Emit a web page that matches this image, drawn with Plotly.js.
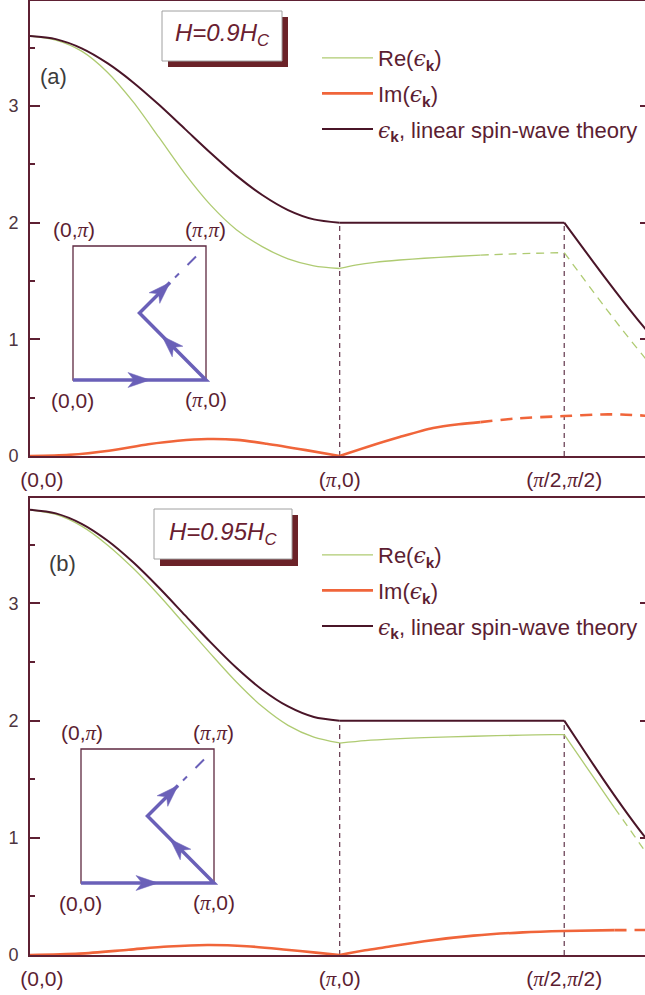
<!DOCTYPE html>
<html><head><meta charset="utf-8">
<script src="https://cdn.plot.ly/plotly-3.0.1.min.js"></script>
<style>html,body{margin:0;padding:0;overflow:hidden;background:#fff}#chart{width:650px;height:995px}</style>
</head><body><div id="chart"></div>
<script>
// ---- x positions: path length along (0,0)->(pi,0)->(pi/2,pi/2)->(pi,pi)
const pointPos = [0, 3.1416, 5.42];
const labelPos = [0.12, 3.1416, 5.42];
const PI = '<span style="font-family:Liberation Serif;font-style:italic">π</span>';
const tickText = ['(0,0)', '(' + PI + ',0)', '(' + PI + '/2,' + PI + '/2)'];
const insetLabels = ['(0,' + PI + ')', '(' + PI + ',' + PI + ')', '(0,0)', '(' + PI + ',0)'];
const panelLabels = ['(a)', '(b)'];
const fieldLabels = ['H=0.9H<sub>C</sub>', 'H=0.95H<sub>C</sub>'];

// ---- panel (a): H = 0.9 Hc
const lswtA1x = [0, 0.262, 0.524, 0.785, 1.047, 1.309, 1.571, 1.833, 2.094, 2.356, 2.618, 2.880, 3.1416];
const lswtA1  = [3.600, 3.573, 3.494, 3.367, 3.202, 3.010, 2.804, 2.597, 2.403, 2.237, 2.108, 2.028, 2.000];
const lswtA2x = [3.1416, 3.6, 4.1, 4.6, 5.0, 5.42];
const lswtA2  = [2.0, 2.0, 2.0, 2.0, 2.0, 2.0];
const lswtA3x = [5.42, 5.62, 5.82, 6.02, 6.22, 6.42];
const lswtA3  = [2.000, 1.771, 1.544, 1.324, 1.113, 0.915];

const reA1x = [0, 0.262, 0.524, 0.785, 1.047, 1.309, 1.571, 1.833, 2.094, 2.356, 2.618, 2.880, 3.1416];
const reA1  = [3.60, 3.565, 3.47, 3.29, 3.035, 2.73, 2.42, 2.15, 1.94, 1.795, 1.69, 1.63, 1.607];
const reA2x = [3.1416, 3.3, 3.5, 3.75, 4.0, 4.3, 4.57];
const reA2  = [1.607, 1.635, 1.66, 1.68, 1.695, 1.71, 1.722];
const reA2dx = [4.57, 5.0, 5.42];
const reA2d  = [1.722, 1.735, 1.743];
const reA3dx = [5.42, 5.62, 5.82, 6.02, 6.22, 6.42];
const reA3d  = [1.743, 1.515, 1.29, 1.07, 0.86, 0.66];

const imA1x = [0, 0.4, 0.8, 1.2, 1.5, 1.8, 2.1, 2.4, 2.8, 3.1416];
const imA1  = [0, 0.01, 0.045, 0.10, 0.13, 0.145, 0.138, 0.105, 0.05, 0];
const imA2x = [3.1416, 3.42, 3.75, 4.09, 4.35, 4.57];
const imA2  = [0, 0.077, 0.162, 0.24, 0.272, 0.290];
const imA2dx = [4.57, 4.94, 5.42, 5.8, 6.0, 6.29];
const imA2d  = [0.290, 0.322, 0.342, 0.356, 0.355, 0.343];

// ---- panel (b): H = 0.95 Hc
const lswtB1x = [0, 0.262, 0.524, 0.785, 1.047, 1.309, 1.571, 1.833, 2.094, 2.356, 2.618, 2.880, 3.1416];
const lswtB1  = [3.800, 3.769, 3.680, 3.537, 3.351, 3.134, 2.901, 2.668, 2.451, 2.264, 2.121, 2.031, 2.000];
const lswtB2x = [3.1416, 3.6, 4.1, 4.6, 5.0, 5.42];
const lswtB2  = [2.0, 2.0, 2.0, 2.0, 2.0, 2.0];
const lswtB3x = [5.42, 5.62, 5.82, 6.02, 6.22, 6.42];
const lswtB3  = [2.000, 1.745, 1.495, 1.254, 1.027, 0.818];

const reB1x = [0, 0.262, 0.524, 0.785, 1.047, 1.309, 1.571, 1.833, 2.094, 2.356, 2.618, 2.880, 3.1416];
const reB1  = [3.80, 3.76, 3.66, 3.50, 3.30, 3.07, 2.82, 2.57, 2.33, 2.12, 1.96, 1.86, 1.81];
const reB2x = [3.1416, 3.4, 3.7, 4.0, 4.5, 5.0, 5.3, 5.42];
const reB2  = [1.809, 1.83, 1.845, 1.855, 1.867, 1.876, 1.88, 1.88];
const reB3x = [5.42, 5.62, 5.82, 5.93];
const reB3  = [1.88, 1.635, 1.39, 1.255];
const reB3dx = [5.93, 6.02, 6.22, 6.42];
const reB3d  = [1.255, 1.15, 0.91, 0.67];

const imB1x = [0, 0.5, 1.0, 1.4, 1.8, 2.2, 2.6, 2.9, 3.1416];
const imB1  = [0, 0.012, 0.045, 0.072, 0.085, 0.075, 0.045, 0.02, 0];
const imB2x = [3.1416, 3.4, 3.6, 4.0, 4.5, 5.0, 5.42, 5.93];
const imB2  = [0, 0.04, 0.066, 0.118, 0.165, 0.193, 0.205, 0.212];
const imB2dx = [5.93, 6.29];
const imB2d  = [0.212, 0.214];

// ---- styles
const FONT = 'Liberation Sans, Arial, sans-serif';
const AX = '#5e2033', TXT = '#5c1e32', DARK = '#4a1528', GREEN = '#afcb72',
      ORANGE = '#f0653a', BLUE = '#6a60b8', VLINE = '#6e4458';
const EPS = '<span style="font-family:DejaVu Serif;font-style:italic">ϵ</span><sub><b>k</b></sub>';
const names = ['Re(' + EPS + ')', 'Im(' + EPS + ')', EPS + ', linear spin-wave theory'];

function ln(x, y, o) {
  return {type: 'scatter', mode: 'lines', x: x, y: y, xaxis: o.xa, yaxis: o.ya,
    line: {color: o.c, width: o.w, dash: o.d || 'solid', shape: 'spline', smoothing: 0.8},
    name: o.name, showlegend: !!o.show, legend: o.lg, legendgroup: o.g, hoverinfo: 'skip'};
}
const RE_D = '8px,6px', IM_D = '12px,8px';
const data = [];
function panel(xa, ya, lg, sfx, re, im, ls) {
  re.forEach((p, i) => data.push(ln(p[0], p[1], {xa, ya, lg, g: 're' + sfx, c: GREEN, w: 1.3, d: p[2] ? RE_D : 'solid', name: names[0], show: i === 0})));
  im.forEach((p, i) => data.push(ln(p[0], p[1], {xa, ya, lg, g: 'im' + sfx, c: ORANGE, w: 2.6, d: p[2] ? IM_D : 'solid', name: names[1], show: i === 0})));
  ls.forEach((p, i) => data.push(ln(p[0], p[1], {xa, ya, lg, g: 'ls' + sfx, c: DARK, w: 2, name: names[2], show: i === 0})));
}
panel('x', 'y', 'legend', 'A',
  [[reA1x, reA1], [reA2x, reA2], [reA2dx, reA2d, 1], [reA3dx, reA3d, 1]],
  [[imA1x, imA1], [imA2x, imA2], [imA2dx, imA2d, 1]],
  [[lswtA1x, lswtA1], [lswtA2x, lswtA2], [lswtA3x, lswtA3]]);
panel('x2', 'y2', 'legend2', 'B',
  [[reB1x, reB1], [reB2x, reB2], [reB3x, reB3], [reB3dx, reB3d, 1]],
  [[imB1x, imB1], [imB2x, imB2], [imB2dx, imB2d, 1]],
  [[lswtB1x, lswtB1], [lswtB2x, lswtB2], [lswtB3x, lswtB3]]);

// ---- pixel helpers for decorations (plot area: x 30..650, y 1..955)
const px = X => (X - 30) / 620;
const py = Y => (955 - Y) / 954;
const shapes = [], annotations = [];

// vertical dashed guides at (pi,0) and (pi/2,pi/2)
[['x', 'y', lswtA2[0]], ['x2', 'y2', lswtB2[0]]].forEach(([xr, yr, top]) => {
  [pointPos[1], pointPos[2]].forEach(xv => shapes.push({type: 'line', xref: xr, yref: yr,
    x0: xv, x1: xv, y0: 0, y1: top, line: {color: VLINE, width: 1.3, dash: '5px,4px'}, layer: 'below'}));
});

function rect(x0, y0, x1, y1, fill, lc, lw) {
  shapes.push({type: 'rect', xref: 'paper', yref: 'paper', x0: px(x0), x1: px(x1), y0: py(y1), y1: py(y0),
    fillcolor: fill, line: {color: lc, width: lw}, layer: 'above'});
}
function seg(x0, y0, x1, y1, c, w) {
  shapes.push({type: 'line', xref: 'paper', yref: 'paper', x0: px(x0), x1: px(x1), y0: py(y0), y1: py(y1),
    line: {color: c, width: w}, layer: 'above'});
}
function pathPx(pts, closed, fill, lc, lw) {
  const d = pts.map((p, i) => (i ? 'L' : 'M') + px(p[0]).toFixed(5) + ',' + py(p[1]).toFixed(5)).join(' ') + (closed ? ' Z' : '');
  shapes.push({type: 'path', xref: 'paper', yref: 'paper', path: d, fillcolor: fill,
    line: {color: lc, width: lw}, layer: 'above'});
}
function head(tx, ty, dx, dy) {
  const L = 22, W = 7.5, N = 6, nx = -dy, ny = dx;
  pathPx([[tx, ty], [tx - L * dx + W * nx, ty - L * dy + W * ny], [tx - (L - N) * dx, ty - (L - N) * dy],
          [tx - L * dx - W * nx, ty - L * dy - W * ny]], true, BLUE, BLUE, 0.5);
}
function txt(x, y, t, size, color, extra) {
  annotations.push(Object.assign({xref: 'paper', yref: 'paper', x: px(x), y: py(y), text: t, showarrow: false,
    xanchor: 'center', yanchor: 'middle', font: {family: FONT, size: size, color: color}}, extra || {}));
}
const r2 = Math.SQRT1_2;
function inset(ox, oy) {
  const X = v => v + ox, Y = v => v + oy;
  rect(X(73), Y(246), X(206), Y(380), 'rgba(0,0,0,0)', '#5e2840', 1.3);
  pathPx([[X(73), Y(380)], [X(206), Y(380)], [X(139.5), Y(313)], [X(170), Y(282.5)]], false, 'rgba(0,0,0,0)', BLUE, 3.5);
  seg(X(175), Y(277.5), X(179), Y(273.5), BLUE, 2);
  seg(X(187.5), Y(265), X(196), Y(256.5), BLUE, 2);
  head(X(150), Y(380), 1, 0);
  head(X(162), Y(336), -r2, -r2);
  head(X(170), Y(282.5), r2, -r2);
  txt(X(73.5), Y(230), insetLabels[0], 21, TXT);
  txt(X(205), Y(230), insetLabels[1], 21, TXT);
  txt(X(72.5), Y(400), insetLabels[2], 21, TXT);
  txt(X(205.5), Y(400), insetLabels[3], 21, TXT);
}
inset(0, 0);
inset(8, 503);

// field boxes with shadow
rect(168, 17, 288, 67, '#6b2228', '#6b2228', 0);
rect(162, 11, 282, 61, '#ffffff', '#a0a0a0', 1);
txt(222, 35, '<i>' + fieldLabels[0] + '</i>', 24, '#6a2030');
rect(160, 515, 298, 566, '#6b2228', '#6b2228', 0);
rect(154, 509, 292, 559, '#ffffff', '#a0a0a0', 1);
txt(223, 533, '<i>' + fieldLabels[1] + '</i>', 24, '#6a2030');

txt(53, 77, panelLabels[0], 22, '#3c3c3c');
txt(62, 563, panelLabels[1], 22, '#3c3c3c');

const yax = d => ({domain: d, range: [0, 3.9], tickvals: [0, 1, 2, 3], ticks: 'inside', ticklen: 10, tickwidth: 2,
  tickcolor: AX, showline: true, linecolor: AX, linewidth: 2, mirror: 'ticks', showgrid: false, zeroline: false,
  tickfont: {family: FONT, size: 18, color: '#4d3540'}, ticklabelstandoff: 6,
  minor: {dtick: 0.5, ticks: 'inside', ticklen: 5, tickwidth: 2, tickcolor: AX, showgrid: false}});
const xax = anchor => ({anchor: anchor, range: [0, 6.29], tickvals: labelPos, ticktext: tickText, ticks: '',
  showline: true, linecolor: AX, linewidth: 2, mirror: true, showgrid: false, zeroline: false,
  tickfont: {family: FONT, size: 21, color: TXT}, ticklabelstandoff: 4});
const leg = yTop => ({x: px(317), xanchor: 'left', y: py(yTop), yanchor: 'top', bgcolor: 'rgba(0,0,0,0)',
  borderwidth: 0, font: {family: FONT, size: 22, color: TXT}, itemwidth: 51, traceorder: 'grouped', tracegroupgap: 4});

const layout = {
  width: 650, height: 995, margin: {l: 30, r: 0, t: 1, b: 40},
  paper_bgcolor: '#ffffff', plot_bgcolor: '#ffffff', font: {family: FONT, color: TXT},
  xaxis: xax('y'), yaxis: yax([0.5231, 1]),
  xaxis2: xax('y2'), yaxis2: yax([0, 0.479]),
  legend: leg(37), legend2: leg(534),
  shapes: shapes, annotations: annotations
};
Plotly.newPlot('chart', data, layout, {staticPlot: true, displayModeBar: false});
</script></body></html>
